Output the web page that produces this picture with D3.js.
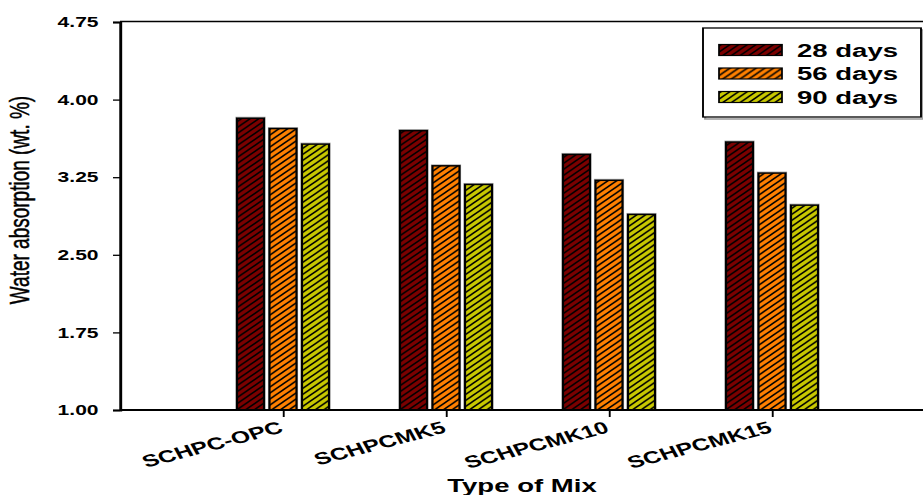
<!DOCTYPE html>
<html>
<head>
<meta charset="utf-8">
<script src="https://cdn.jsdelivr.net/npm/d3@7"></script>
<style>
    body { margin: 0; background: #fff; }
    svg { display: block; font-family: "Liberation Sans", Arial, sans-serif; }
</style>
</head>
<body>
<svg id="chart" width="923" height="495"></svg>
<script>
/**
 * Data.
 */
const categories = ['SCHPC-OPC', 'SCHPCMK5', 'SCHPCMK10', 'SCHPCMK15'];
const series = ['28 days', '56 days', '90 days'];
const days28 = [3.82, 3.70, 3.47, 3.59];
const days56 = [3.72, 3.36, 3.22, 3.29];
const days90 = [3.57, 3.18, 2.89, 2.98];
const yTicks = [1.00, 1.75, 2.50, 3.25, 4.00, 4.75];
const colors = ['#7b0000', '#ff8000', '#c8c800'];

/**
 * Visual configs. The original picture is stretched horizontally,
 * so everything is drawn in a narrower space and scaled on x.
 */
const stretch = 1.45;
const visWidth = 923, visHeight = 495;
const innerW = visWidth / stretch;
const plot = { left: 120 / stretch, right: 935 / stretch, top: 22, bottom: 410 };

const svg = d3.select('#chart');
const defs = svg.append('defs');
const g = svg.append('g').attr('transform', 'scale(' + stretch + ',1)');

// Hatch patterns
colors.forEach((c, i) => {
    const p = defs.append('pattern')
        .attr('id', 'hatch' + i)
        .attr('patternUnits', 'userSpaceOnUse')
        .attr('width', 6).attr('height', 6);
    p.append('rect').attr('width', 6).attr('height', 6).attr('fill', c);
    p.append('path')
        .attr('d', 'M0,6L6,0M-1.5,1.5L1.5,-1.5M4.5,7.5L7.5,4.5')
        .attr('stroke', '#000').attr('stroke-width', 1.3);
});

/**
 * Scales.
 */
const x = d3.scalePoint().domain(categories).range([plot.left, plot.right]).padding(1);
const sub = d3.scalePoint().domain(series).range([-32.5 / stretch, 32.5 / stretch]);
const barW = 27 / stretch;
const y = d3.scaleLinear().domain([1, 4.75]).range([plot.bottom, plot.top]);

const table = categories.map((c, i) => ({
    cat: c,
    values: [days28[i], days56[i], days90[i]]
}));

/**
 * Bars.
 */
const groups = g.append('g').attr('class', 'bars')
    .selectAll('g').data(table).join('g')
    .attr('transform', d => 'translate(' + x(d.cat) + ',0)');

groups.selectAll('rect.halo')
    .data(d => d.values.map((v, i) => ({ v, i })))
    .join('rect').attr('class', 'halo')
    .attr('x', d => sub(series[d.i]) - barW / 2 - 0.6)
    .attr('y', d => y(d.v) - 1)
    .attr('width', barW + 1.2)
    .attr('height', d => plot.bottom - y(d.v) + 1)
    .attr('fill', 'none').attr('stroke', '#aaa').attr('stroke-width', 1);

groups.selectAll('rect.bar')
    .data(d => d.values.map((v, i) => ({ v, i })))
    .join('rect').attr('class', 'bar')
    .attr('x', d => sub(series[d.i]) - barW / 2)
    .attr('y', d => y(d.v))
    .attr('width', barW)
    .attr('height', d => plot.bottom - y(d.v))
    .attr('fill', d => 'url(#hatch' + d.i + ')')
    .attr('stroke', '#000').attr('stroke-width', 1.5);

/**
 * Frame and axes.
 */
g.append('line')
    .attr('x1', plot.left).attr('x2', innerW + 5)
    .attr('y1', plot.top - 0.5).attr('y2', plot.top - 0.5)
    .attr('stroke', '#000').attr('stroke-width', 1.6);

const yAxis = g.append('g')
    .attr('transform', 'translate(' + plot.left + ',0)')
    .call(d3.axisLeft(y).tickValues(yTicks).tickFormat(d3.format('.2f'))
        .tickSize(7 / stretch).tickPadding(10));
yAxis.select('.domain').attr('stroke-width', 2);
yAxis.selectAll('.tick line').attr('stroke-width', 1.3);
yAxis.selectAll('.tick text')
    .attr('font-size', 14.5).attr('font-weight', 'bold')
    .attr('font-family', '"Liberation Sans", Arial, sans-serif').attr('fill', '#000');

const xAxis = g.append('g')
    .attr('transform', 'translate(0,' + plot.bottom + ')')
    .call(d3.axisBottom(x).tickSize(7).tickSizeOuter(0).tickFormat(''));
xAxis.select('.domain').attr('d', 'M' + plot.left + ',0H' + (innerW + 5)).attr('stroke-width', 2);
xAxis.selectAll('.tick line').attr('stroke-width', 1.3);

// Rotated category labels
g.append('g').attr('class', 'x-labels')
    .selectAll('text').data(categories).join('text')
    .attr('transform', d => 'translate(' + (x(d) + 1) + ',' + (plot.bottom + 22) + ') rotate(-20.6)')
    .attr('text-anchor', 'end')
    .attr('font-size', 17).attr('font-weight', 'bold')
    .text(d => d);

// Axis titles
g.append('text')
    .attr('x', 522 / stretch).attr('y', 492)
    .attr('text-anchor', 'middle')
    .attr('font-size', 19).attr('font-weight', 'bold')
    .text('Type of Mix');

g.append('text')
    .attr('transform', 'translate(' + (29 / stretch) + ',200) rotate(-90)')
    .attr('text-anchor', 'middle')
    .attr('font-size', 19)
    .attr('stroke', '#000').attr('stroke-width', 0.35)
    .text('Water absorption (wt. %)');

/**
 * Legend.
 */
const legend = g.append('g').attr('class', 'legend');
const lx = 703 / stretch, ly = 28, lw = 218 / stretch, lh = 89;
legend.append('rect')
    .attr('x', lx + 1.5).attr('y', ly + 2).attr('width', lw).attr('height', lh)
    .attr('fill', 'none').attr('stroke', '#999').attr('stroke-width', 1.5);
legend.append('rect')
    .attr('x', lx).attr('y', ly).attr('width', lw).attr('height', lh)
    .attr('fill', '#fff').attr('stroke', '#000').attr('stroke-width', 1.3);

const items = legend.selectAll('g.item').data(series).join('g')
    .attr('class', 'item')
    .attr('transform', (d, i) => 'translate(0,' + (50 + i * 23.5) + ')');
items.append('rect')
    .attr('x', 719 / stretch).attr('y', -5.5)
    .attr('width', 63 / stretch).attr('height', 11)
    .attr('fill', (d, i) => 'url(#hatch' + i + ')')
    .attr('stroke', '#000').attr('stroke-width', 1.2);
items.append('text')
    .attr('x', 797 / stretch).attr('y', 6.8)
    .attr('font-size', 19).attr('font-weight', 'bold')
    .text(d => d);
</script>
</body>
</html>
